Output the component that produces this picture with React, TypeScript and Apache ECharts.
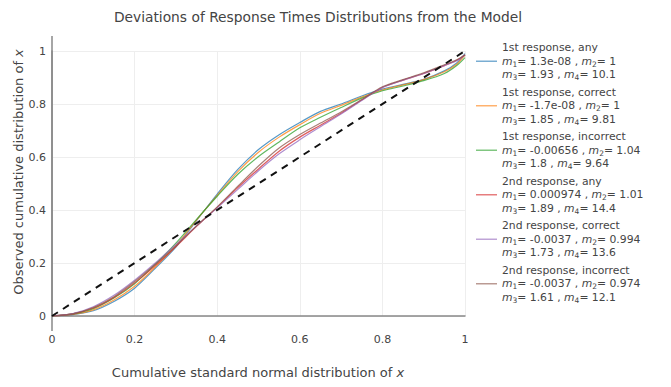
import React, { useEffect, useRef } from "react";
import * as echarts from "echarts";

const xs = [0, 0.05, 0.1, 0.15, 0.2, 0.25, 0.3, 0.35, 0.4, 0.45, 0.5, 0.55, 0.6, 0.65, 0.7, 0.75, 0.8, 0.85, 0.9, 0.95, 0.98, 1.0];

const firstAny = [0, 0.005, 0.02, 0.055, 0.105, 0.18, 0.26, 0.36, 0.46, 0.553, 0.628, 0.684, 0.73, 0.772, 0.8, 0.83, 0.856, 0.874, 0.893, 0.925, 0.955, 0.99];
const firstCorrect = [0, 0.006, 0.023, 0.06, 0.112, 0.185, 0.265, 0.362, 0.455, 0.545, 0.618, 0.675, 0.722, 0.765, 0.795, 0.826, 0.853, 0.872, 0.892, 0.922, 0.95, 0.985];
const firstIncorrect = [0, 0.008, 0.028, 0.068, 0.122, 0.195, 0.275, 0.365, 0.452, 0.535, 0.602, 0.657, 0.71, 0.75, 0.787, 0.822, 0.85, 0.868, 0.888, 0.915, 0.945, 0.975];
const secondAny = [0, 0.008, 0.03, 0.07, 0.125, 0.19, 0.262, 0.338, 0.41, 0.485, 0.555, 0.622, 0.675, 0.72, 0.765, 0.815, 0.862, 0.89, 0.915, 0.945, 0.965, 0.985];
const secondCorrect = [0, 0.009, 0.035, 0.078, 0.135, 0.2, 0.27, 0.34, 0.408, 0.478, 0.548, 0.612, 0.665, 0.714, 0.762, 0.813, 0.862, 0.89, 0.915, 0.945, 0.963, 0.985];
const secondIncorrect = [0, 0.008, 0.032, 0.073, 0.13, 0.195, 0.265, 0.34, 0.412, 0.49, 0.566, 0.634, 0.685, 0.728, 0.77, 0.817, 0.865, 0.892, 0.918, 0.948, 0.967, 0.985];

const modelLine = [[0, 0], [1, 1]];

const seriesNames = [
  "1st response, any",
  "1st response, correct",
  "1st response, incorrect",
  "2nd response, any",
  "2nd response, correct",
  "2nd response, incorrect",
];
const seriesValues = [firstAny, firstCorrect, firstIncorrect, secondAny, secondCorrect, secondIncorrect];
const seriesColors = ["#1f77b4", "#ff7f0e", "#2ca02c", "#d62728", "#9467bd", "#8c564b"];

// moments: m1, m2, m3, m4
const m1 = ["1.3e-08", "-1.7e-08", "-0.00656", "0.000974", "-0.0037", "-0.0037"];
const m2 = ["1", "1", "1.04", "1.01", "0.994", "0.974"];
const m3 = ["1.93", "1.85", "1.8", "1.89", "1.73", "1.61"];
const m4 = ["10.1", "9.81", "9.64", "14.4", "13.6", "12.1"];

const FONT = "DejaVu Sans";

export default function App() {
  const ref = useRef<HTMLDivElement>(null);
  useEffect(() => {
    if (!ref.current) return;
    const chart = echarts.init(ref.current, null, { renderer: "svg" });
    const legendText: Record<string, string> = {};
    seriesNames.forEach((n, i) => {
      legendText[n] =
        `{n|${n}}\n` +
        `{i|m}{s|1}{n|= ${m1[i]} , }{i|m}{s|2}{n|= ${m2[i]}}\n` +
        `{i|m}{s|3}{n|= ${m3[i]} , }{i|m}{s|4}{n|= ${m4[i]}}`;
    });
    const lineSeries: any[] = seriesNames.map((name, i) => ({
      name,
      type: "line",
      data: xs.map((x, j) => [x, seriesValues[i][j]]),
      smooth: 0.3,
      symbol: "none",
      lineStyle: { color: seriesColors[i], width: 1.2, opacity: 0.75 },
      itemStyle: { color: seriesColors[i], opacity: 0.6 },
      z: 2,
    }));
    lineSeries.push({
      name: "model",
      type: "line",
      data: modelLine,
      symbol: "none",
      lineStyle: { color: "#111", width: 2, type: [7, 6] },
      z: 3,
    });
    const option: any = {
      animation: false,
      textStyle: { fontFamily: FONT },
      grid: { left: 52, right: 206, top: 51, bottom: 71, containLabel: false },
      xAxis: {
        type: "value",
        min: 0,
        max: 1,
        interval: 0.2,
        axisLine: { show: true, lineStyle: { color: "#888", width: 1.5 } },
        axisTick: { show: false },
        axisLabel: {
          margin: 18,
          color: "#444",
          fontSize: 11,
          fontFamily: FONT,
          formatter: (v: number) => String(+v.toFixed(1)),
        },
        splitLine: { show: true, lineStyle: { color: "#eee", width: 1 } },
      },
      yAxis: {
        type: "value",
        min: 0,
        max: 1,
        interval: 0.2,
        axisLine: { show: true, lineStyle: { color: "#888", width: 1.5 } },
        axisTick: { show: false },
        axisLabel: {
          margin: 6,
          color: "#444",
          fontSize: 11,
          fontFamily: FONT,
          formatter: (v: number) => String(+v.toFixed(1)),
        },
        splitLine: { show: true, lineStyle: { color: "#eee", width: 1 } },
      },
      legend: {
        data: seriesNames,
        orient: "vertical",
        left: 476,
        top: 41,
        padding: 0,
        itemWidth: 21,
        itemHeight: 1.5,
        itemGap: 4,
        icon: "rect",
        selectedMode: false,
        formatter: (name: string) => legendText[name],
        textStyle: {
          color: "#444",
          fontFamily: FONT,
          fontSize: 10.8,
          lineHeight: 13.5,
          rich: {
            n: { fontSize: 10.8, color: "#444", fontFamily: FONT, lineHeight: 13.5 },
            i: { fontSize: 10.8, color: "#444", fontFamily: FONT, fontStyle: "italic", lineHeight: 13.5 },
            s: { fontSize: 7.5, color: "#444", fontFamily: FONT, verticalAlign: "bottom", lineHeight: 13.5, padding: [4, 0, 0, 0] },
          },
        },
      },
      graphic: [
        {
          type: "line",
          shape: { x1: 52, y1: 36, x2: 52, y2: 331 },
          style: { stroke: "#888", lineWidth: 1.5 },
          z: 1,
        },
        {
          type: "text",
          x: 318,
          y: 17,
          style: {
            text: "Deviations of Response Times Distributions from the Model",
            fill: "#444",
            font: `13.8px "${FONT}"`,
            textAlign: "center",
            textVerticalAlign: "middle",
          },
        },
        {
          type: "text",
          x: 258,
          y: 372,
          style: {
            text: "{n|Cumulative standard normal distribution of }{i|x}",
            fill: "#444",
            textAlign: "center",
            textVerticalAlign: "middle",
            rich: {
              n: { fontSize: 13, fontFamily: FONT, fill: "#444" },
              i: { fontSize: 13, fontFamily: FONT, fontStyle: "italic", fill: "#444" },
            },
          },
        },
        {
          type: "text",
          x: 18,
          y: 172,
          rotation: Math.PI / 2,
          style: {
            text: "{n|Observed cumulative distribution of }{i|x}",
            fill: "#444",
            textAlign: "center",
            textVerticalAlign: "middle",
            rich: {
              n: { fontSize: 13, fontFamily: FONT, fill: "#444" },
              i: { fontSize: 13, fontFamily: FONT, fontStyle: "italic", fill: "#444" },
            },
          },
        },
      ],
      series: lineSeries,
    };
    chart.setOption(option);
    return () => chart.dispose();
  }, []);
  return (
    <div
      ref={ref}
      style={{ position: "fixed", left: 0, top: 0, width: 671, height: 387, background: "#fff" }}
    />
  );
}
